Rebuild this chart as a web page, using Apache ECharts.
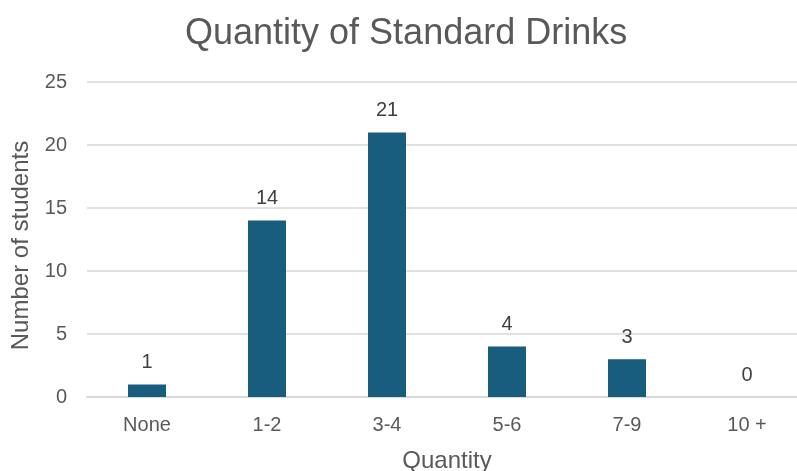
<!DOCTYPE html>
<html>
<head>
<meta charset="utf-8">
<script src="https://cdn.jsdelivr.net/npm/echarts@6/dist/echarts.min.js"></script>
<style>
  html, body { margin: 0; padding: 0; background: #fff; overflow: hidden; }
  #chart { width: 797px; height: 471px; }
</style>
</head>
<body>
<div id="chart"></div>
<script>
// Survey answers: how many standard drinks students reported
const categories = ['None', '1-2', '3-4', '5-6', '7-9', '10 +'];
const students = [1, 14, 21, 4, 3, 0];
const yTicks = [0, 5, 10, 15, 20, 25];

const textColor = '#595959';
const fontFamily = '"Liberation Sans", Arial, sans-serif';

const chart = echarts.init(document.getElementById('chart'), null, { renderer: 'canvas' });
chart.setOption({
  animation: false,
  backgroundColor: '#ffffff',
  title: {
    text: 'Quantity of Standard Drinks',
    left: 180,
    top: 11,
    textStyle: { color: textColor, fontSize: 36, fontWeight: 'normal', fontFamily: fontFamily }
  },
  // the plot runs a little past the right edge of the canvas
  grid: { left: 87, top: 82, width: 720, height: 315, containLabel: false, outerBoundsMode: 'none' },
  xAxis: {
    type: 'category',
    data: categories,
    name: 'Quantity',
    nameLocation: 'middle',
    nameGap: 52,
    nameTextStyle: { color: textColor, fontSize: 24, fontFamily: fontFamily },
    axisLine: { lineStyle: { color: '#d9d9d9', width: 2 } },
    axisTick: { show: false },
    axisLabel: { color: textColor, fontSize: 20, fontFamily: fontFamily, margin: 18 }
  },
  yAxis: {
    type: 'value',
    min: yTicks[0],
    max: yTicks[yTicks.length - 1],
    interval: 5,
    name: 'Number of students',
    nameLocation: 'middle',
    nameGap: 50,
    nameTextStyle: { color: textColor, fontSize: 24, fontFamily: fontFamily, padding: [0, 12, 0, 0] },
    axisLine: { show: false },
    axisTick: { show: false },
    splitLine: { lineStyle: { color: '#d9d9d9', width: 1.5 } },
    axisLabel: { color: textColor, fontSize: 20, fontFamily: fontFamily, margin: 20 }
  },
  series: [{
    type: 'bar',
    data: students,
    barWidth: 38,
    itemStyle: { color: '#185d7d' },
    label: {
      show: true,
      position: 'top',
      distance: 12,
      color: '#404040',
      fontSize: 20,
      fontFamily: fontFamily
    }
  }]
});
</script>
</body>
</html>
